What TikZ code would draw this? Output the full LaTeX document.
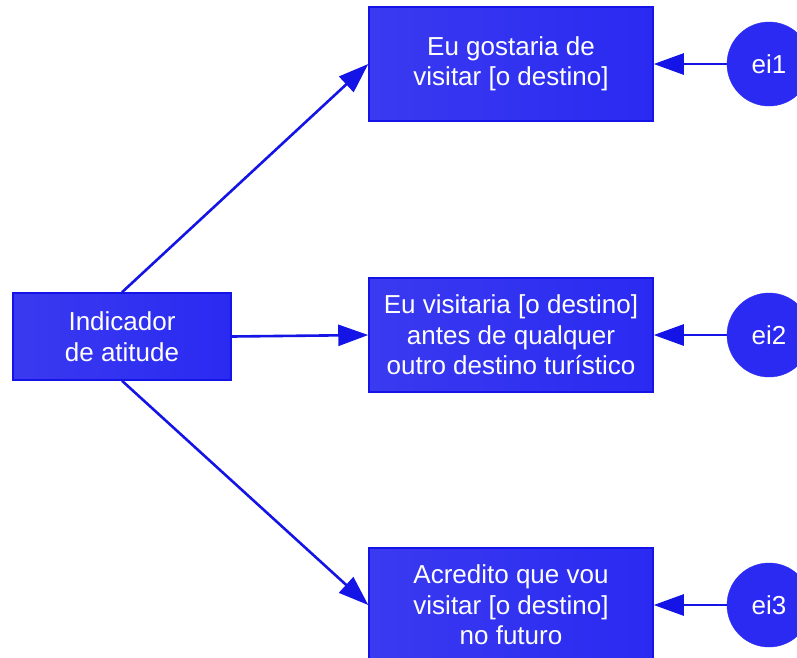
\documentclass[tikz,border=0pt]{standalone}
\usepackage{fontspec}
\setmainfont{Liberation Sans}
\usetikzlibrary{arrows.meta,shapes.geometric}
\definecolor{boxblue}{HTML}{2A2AF2}
\definecolor{boxleft}{HTML}{3A3AF0}
\definecolor{edgeblue}{HTML}{1414E6}
\begin{document}
\begin{tikzpicture}[x=1pt,y=-1pt,
  box/.style={draw=edgeblue, line width=1.5pt, left color=boxleft, right color=boxblue,
    text=white, align=center, font=\fontsize{26}{30.5}\selectfont, inner sep=0pt},
  errc/.style={circle, fill=boxblue, draw=boxblue, text=white, minimum size=84pt, inner sep=0pt,
    font=\fontsize{26}{30}\selectfont},
  conn/.style={draw=edgeblue, line width=2.6pt, -{Triangle[length=30pt,width=21pt]}}
]
\useasboundingbox (0,0) rectangle (797,657);
\node[box, minimum width=218pt, minimum height=87pt] (ind) at (122,336.5) {Indicador\\de atitude};
\node[box, minimum width=284pt, minimum height=114pt] (b1) at (511,64) {Eu gostaria de\\visitar [o destino]};
\node[box, minimum width=284pt, minimum height=114pt] (b2) at (511,335) {Eu visitaria [o destino]\\antes de qualquer\\outro destino turístico};
\node[box, minimum width=284pt, minimum height=114pt] (b3) at (511,605) {Acredito que vou\\visitar [o destino]\\no futuro};
\node[errc] (e1) at (769,64) {ei1};
\node[errc] (e2) at (769,335) {ei2};
\node[errc] (e3) at (769,605) {ei3};
\draw[conn] (ind.north) -- (b1.west);
\draw[conn] (ind.east) -- (b2.west);
\draw[conn] (ind.south) -- (b3.west);
\draw[conn] (e1.west) -- (b1.east);
\draw[conn] (e2.west) -- (b2.east);
\draw[conn] (e3.west) -- (b3.east);
\end{tikzpicture}
\end{document}
